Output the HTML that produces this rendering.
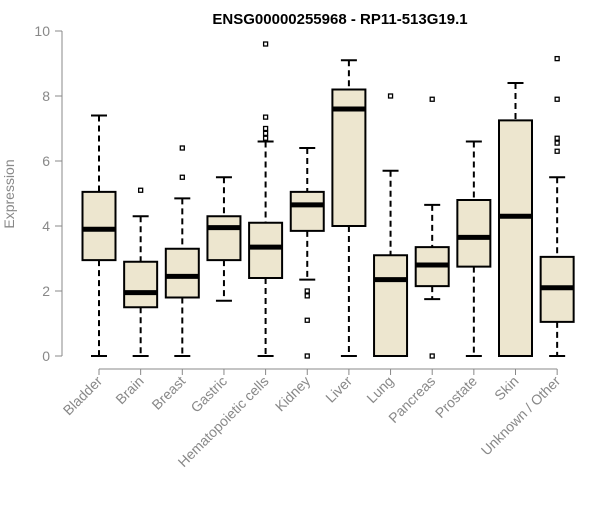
<!DOCTYPE html>
<html><head><meta charset="utf-8"><style>
body{margin:0;background:#fff}
svg{font-family:"Liberation Sans",Arial,sans-serif}
</style></head><body>
<svg id="c" width="600" height="500">
<text x="340" y="24" text-anchor="middle" font-weight="bold" font-size="15">ENSG00000255968 - RP11-513G19.1</text>
<text transform="translate(14,194) rotate(-90)" text-anchor="middle" font-size="14" fill="#888">Expression</text>
<g id="axis"></g><g id="plot"></g>
</svg>
<script>
const categories=["Bladder","Brain","Breast","Gastric","Hematopoietic cells","Kidney","Liver","Lung","Pancreas","Prostate","Skin","Unknown / Other"];
const whiskerLow=[0,0,0,1.7,0,2.35,0,0,1.75,0,0,0];
const q1=[2.95,1.5,1.8,2.95,2.4,3.85,4.0,0,2.15,2.75,0,1.05];
const medians=[3.9,1.95,2.45,3.95,3.35,4.65,7.6,2.35,2.8,3.65,4.3,2.1];
const q3=[5.05,2.9,3.3,4.3,4.1,5.05,8.2,3.1,3.35,4.8,7.25,3.05];
const whiskerHigh=[7.4,4.3,4.85,5.5,6.6,6.4,9.1,5.7,4.65,6.6,8.4,5.5];
const outliers=[[],[5.1],[5.5,6.4],[],[9.6,7.35,7.0,6.85,6.7],[2.0,1.85,1.1,0],[],[8.0],[7.9,0],[],[],[9.15,7.9,6.7,6.55,6.3]];
const yTicks=[0,2,4,6,8,10];
const NS="http://www.w3.org/2000/svg";
const y=v=>356-v*32.5;
const x=i=>99+i*41.65;
function mk(tag,at,parent){const e=document.createElementNS(NS,tag);for(const k in at)e.setAttribute(k,at[k]);parent.appendChild(e);return e;}
const ax=document.getElementById('axis'),pl=document.getElementById('plot');
let yl=mk('line',{x1:62,x2:62,y1:y(0),y2:y(10),stroke:'#888'},ax);


yTicks.forEach(t=>{
 const tk=mk('line',{x1:55,x2:62,y1:y(t),y2:y(t),stroke:'#888'},ax);
 
 
 const tx=mk('text',{x:50,y:y(t)+5,'text-anchor':'end','font-size':14,fill:'#888'},ax);tx.textContent=t;
 
 
});
let xl=mk('line',{x1:x(0),x2:x(11),y1:369,y2:369,stroke:'#888'},ax);


categories.forEach((c,i)=>{
 const cx=x(i),w=16.5;
 const tk=mk('line',{x1:cx,x2:cx,y1:369,y2:375,stroke:'#888'},ax);
 
 
 const tx=mk('text',{transform:`translate(${cx+4},${382}) rotate(-45)`,'text-anchor':'end','font-size':14,fill:'#888'},ax);tx.textContent=c;
 
 
 const g=mk('g',{},pl);
 
 
 mk('line',{x1:cx,x2:cx,y1:y(whiskerHigh[i]),y2:y(q3[i]),stroke:'#000','stroke-width':2,'stroke-dasharray':'6,4'},g);
 mk('line',{x1:cx,x2:cx,y1:y(q1[i]),y2:y(whiskerLow[i]),stroke:'#000','stroke-width':2,'stroke-dasharray':'6,4'},g);
 mk('line',{x1:cx-8,x2:cx+8,y1:y(whiskerHigh[i]),y2:y(whiskerHigh[i]),stroke:'#000','stroke-width':2},g);
 mk('line',{x1:cx-8,x2:cx+8,y1:y(whiskerLow[i]),y2:y(whiskerLow[i]),stroke:'#000','stroke-width':2},g);
 mk('rect',{x:cx-w,y:y(q3[i]),width:2*w,height:y(q1[i])-y(q3[i]),fill:'#ede6cf',stroke:'#000','stroke-width':2},g);
 mk('line',{x1:cx-w,x2:cx+w,y1:y(medians[i]),y2:y(medians[i]),stroke:'#000','stroke-width':5},g);
 outliers[i].forEach(o=>{
  const p=mk('rect',{x:cx-2,y:y(o)-2,width:4,height:4,fill:'none',stroke:'#000','stroke-width':1.3},g);
  
  
 });
});
</script>
</body></html>
